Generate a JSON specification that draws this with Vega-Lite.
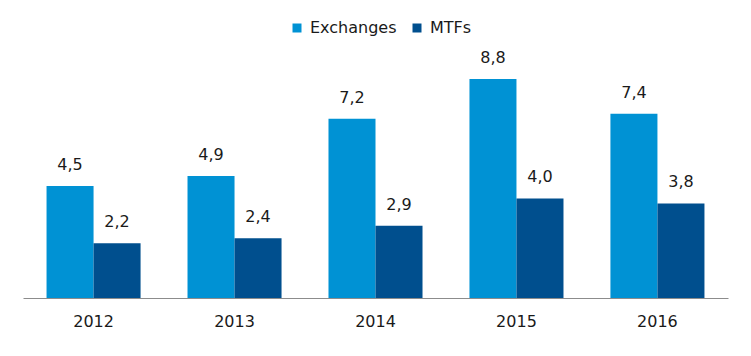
{
  "$schema": "https://vega.github.io/schema/vega-lite/v6.json",
  "width": 705,
  "height": 249,
  "autosize": {"type": "none"},
  "padding": {"left": 23, "top": 49, "right": 23, "bottom": 58},
  "background": "white",
  "config": {
    "view": {"stroke": null},
    "font": "DejaVu Sans",
    "locale": {"number": {"decimal": ",", "thousands": ".", "grouping": [3], "currency": ["", " €"]}}
  },
  "data": {"values": [
    {"year": "2012", "series": "Exchanges", "value": 4.5},
    {"year": "2012", "series": "MTFs", "value": 2.2},
    {"year": "2013", "series": "Exchanges", "value": 4.9},
    {"year": "2013", "series": "MTFs", "value": 2.4},
    {"year": "2014", "series": "Exchanges", "value": 7.2},
    {"year": "2014", "series": "MTFs", "value": 2.9},
    {"year": "2015", "series": "Exchanges", "value": 8.8},
    {"year": "2015", "series": "MTFs", "value": 4.0},
    {"year": "2016", "series": "Exchanges", "value": 7.4},
    {"year": "2016", "series": "MTFs", "value": 3.8}
  ]},
  "encoding": {
    "x": {"field": "year", "type": "nominal", "scale": {"paddingInner": 0.333, "paddingOuter": 0.167},
      "axis": {"title": null, "domainColor": "#8c8c8c", "domainWidth": 1, "ticks": false, "labelAngle": 0,
        "labelFontSize": 16, "labelColor": "#1a1a1a", "labelPadding": 15}},
    "xOffset": {"field": "series", "type": "nominal", "sort": ["Exchanges", "MTFs"]},
    "y": {"field": "value", "type": "quantitative", "scale": {"domain": [0, 10], "nice": false}, "axis": null}
  },
  "layer": [
    {
      "mark": {"type": "bar"},
      "encoding": {
        "color": {"field": "series", "type": "nominal",
          "scale": {"domain": ["Exchanges", "MTFs"], "range": ["#0092D4", "#004F8E"]},
          "legend": {"title": null, "orient": "none", "direction": "horizontal", "legendX": 266, "legendY": -29,
            "symbolType": "square", "symbolSize": 81, "symbolStrokeWidth": 0, "labelFontSize": 16, "labelColor": "#1a1a1a",
            "columnPadding": 12, "labelOffset": 5}}
      }
    },
    {
      "mark": {"type": "text", "dy": -13, "fontSize": 16, "color": "#1a1a1a", "baseline": "bottom"},
      "encoding": {"text": {"field": "value", "type": "quantitative", "format": ".1f"}}
    }
  ]
}
